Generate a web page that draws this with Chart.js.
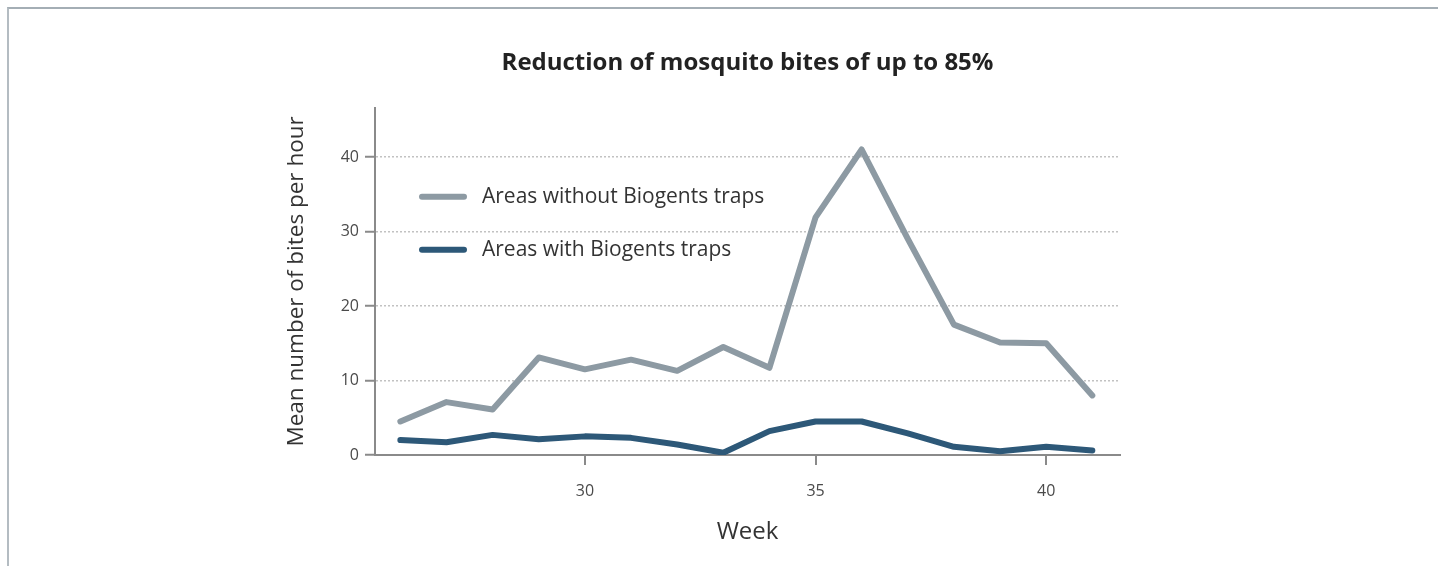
<!DOCTYPE html>
<html>
<head>
<meta charset="utf-8">
<script src="https://cdn.jsdelivr.net/npm/chart.js@4"></script>
<style>
  html, body { margin: 0; padding: 0; background: #fff; }
  #frame { position: absolute; left: 7px; top: 7px; width: 1431px; height: 559px;
           border-top: 2px solid #a4aeb5; border-left: 2px solid #b4bcc2; }
  #wrap { position: absolute; left: 0; top: 0; width: 1438px; height: 566px; }
</style>
</head>
<body>
<div id="frame"></div>
<div id="wrap"><canvas id="myChart" width="1438" height="566"></canvas></div>
<script>
let weeks = [26, 27, 28, 29, 30, 31, 32, 33, 34, 35, 36, 37, 38, 39, 40, 41];
let withoutTraps = [4.5, 7.1, 6.1, 13.1, 11.5, 12.8, 11.3, 14.5, 11.7, 31.9, 41, 29, 17.5, 15.1, 15, 8];
let withTraps = [2.0, 1.7, 2.7, 2.1, 2.5, 2.3, 1.4, 0.3, 3.2, 4.5, 4.5, 2.9, 1.1, 0.5, 1.1, 0.6];
let xTicks = [30, 35, 40];
let yTicks = [0, 10, 20, 30, 40];
let seriesLabels = ['Areas without Biogents traps', 'Areas with Biogents traps'];
let seriesColors = ['#8d9aa3', '#2d5878'];

let fontFamily = '"Open Sans", "Noto Sans", sans-serif';

let toPoints = function(vals) {
  let pts = [];
  for (let i = 0; i < weeks.length; i++) {
    pts.push({x: weeks[i], y: vals[i]});
  }
  return pts;
};

// legend sits inside the plot, no box around it
let innerLegend = {
  id: 'innerLegend',
  afterDatasetsDraw(chart) {
    let ctx = chart.ctx;
    let area = chart.chartArea;
    let rows = [89, 142];
    ctx.save();
    chart.data.datasets.forEach(function(ds, i) {
      let y = area.top + rows[i];
      ctx.strokeStyle = ds.borderColor;
      ctx.lineWidth = 6;
      ctx.lineCap = 'round';
      ctx.beginPath();
      ctx.moveTo(area.left + 47, y);
      ctx.lineTo(area.left + 89, y);
      ctx.stroke();
      ctx.fillStyle = '#333';
      ctx.font = '500 21px ' + fontFamily;
      ctx.textBaseline = 'middle';
      ctx.fillText(ds.label, area.left + 107, y);
    });
    ctx.restore();
  }
};

let canvas = document.getElementById('myChart');
let ctx = canvas.getContext('2d');

let myChart = new Chart(ctx, {
  type: 'line',
  data: {
    datasets: [{
      label: seriesLabels[0],
      data: toPoints(withoutTraps),
      borderColor: seriesColors[0],
      borderWidth: 6,
      pointRadius: 0,
      tension: 0,
      borderJoinStyle: 'round',
      borderCapStyle: 'round'
    }, {
      label: seriesLabels[1],
      data: toPoints(withTraps),
      borderColor: seriesColors[1],
      borderWidth: 6,
      pointRadius: 0,
      tension: 0,
      borderJoinStyle: 'round',
      borderCapStyle: 'round'
    }]
  },
  options: {
    responsive: false,
    animation: false,
    layout: { padding: { left: 0, right: 318, top: 0, bottom: 0 } },
    plugins: {
      legend: { display: false },
      tooltip: { enabled: false },
      title: {
        display: true,
        fullSize: false,
        text: 'Reduction of mosquito bites of up to 85%',
        color: '#222',
        font: { family: fontFamily, size: 24, weight: 'bold' },
        padding: { top: 49, bottom: 30 }
      }
    },
    scales: {
      x: {
        type: 'linear',
        min: 25.45,
        max: 41.6,
        afterBuildTicks: function(axis) { axis.ticks = xTicks.map(v => ({value: v})); },
        afterFit: function(axis) { axis.height = 111; },
        border: { color: '#8a8a8a', width: 2 },
        grid: { drawOnChartArea: false, drawTicks: true, tickLength: 10, tickColor: '#8a8a8a', lineWidth: 2 },
        ticks: { color: '#4a4a4a', font: { family: fontFamily, size: 16, weight: '500' }, padding: 17, maxRotation: 0 },
        title: {
          display: true, text: 'Week', color: '#333',
          font: { family: fontFamily, size: 24 },
          padding: { top: 0, bottom: 19 }
        }
      },
      y: {
        min: 0,
        max: 46.6,
        afterBuildTicks: function(axis) { axis.ticks = yTicks.map(v => ({value: v})); },
        afterFit: function(axis) { axis.width = 375; },
        border: { color: '#8a8a8a', width: 2, dash: [2, 2] },
        grid: {
          color: '#c2c2c2', lineWidth: 1.5,
          drawTicks: true, tickLength: 10, tickColor: '#8a8a8a', tickBorderDash: [], tickWidth: 2
        },
        ticks: { color: '#4a4a4a', font: { family: fontFamily, size: 16, weight: '500' }, padding: 6 },
        title: {
          display: true, text: 'Mean number of bites per hour', color: '#333',
          font: { family: fontFamily, size: 22.5 },
          padding: { top: 283, bottom: 0 }
        }
      }
    }
  },
  plugins: [innerLegend]
});
</script>
</body>
</html>
